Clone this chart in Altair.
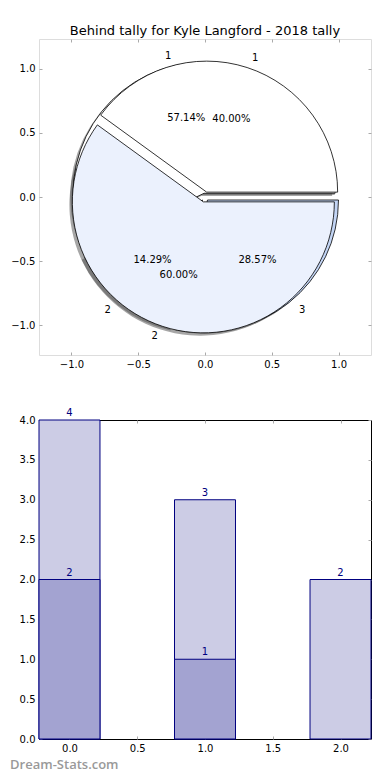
import math
import altair as alt
import pandas as pd

TITLE = "Behind tally for Kyle Langford - 2018 tally"
WATERMARK = "Dream-Stats.com"

# outer pie (drawn on top): 2 slices
pie_a_values = [2, 3]
pie_a_labels = ["1", "2"]
pie_a_colors = ["#ffffff", "#ebf1fd"]
pie_a_explode = [0.04, 0.04]

# under pie: 3 slices
pie_b_values = [4, 1, 2]
pie_b_labels = ["1", "2", "3"]
pie_b_colors = ["#ffffff", "#ffffff", "#c3d5f5"]
pie_b_explode = [0.03, 0.03, 0.03]

bar_positions = [0, 1, 2]
bar_totals = [4, 3, 2]
sub_positions = [0, 1]
sub_values = [2, 1]

pie_ticks = [-1.0, -0.5, 0.0, 0.5, 1.0]
bar_xticks = [0.0, 0.5, 1.0, 1.5, 2.0]
bar_yticks = [0.0, 0.5, 1.0, 1.5, 2.0, 2.5, 3.0, 3.5, 4.0]


def pie_frame(values, labels, colors, explode, name):
    total = sum(values)
    rows = []
    cum = 0
    for v, lab, col, ex in zip(values, labels, colors, explode):
        f0 = cum / total
        cum += v
        f1 = cum / total
        mid = math.pi * (f0 + f1)
        cx = ex * math.cos(mid)
        cy = ex * math.sin(mid)
        rows.append(dict(
            pie=name, f0=f0, f1=f1, cx=cx, cy=cy,
            sx=cx - 0.022, sy=cy - 0.022,
            lx=cx + 1.1 * math.cos(mid), ly=cy + 1.1 * math.sin(mid),
            px=cx + 0.6 * math.cos(mid), py=cy + 0.6 * math.sin(mid),
            label=lab, pct=f"{100 * v / total:.2f}%", color=col,
            side="right" if math.cos(mid) < 0 else "left",
        ))
    return pd.DataFrame(rows)


pie_df = pd.concat([
    pie_frame(pie_b_values, pie_b_labels, pie_b_colors, pie_b_explode, "B"),
    pie_frame(pie_a_values, pie_a_labels, pie_a_colors, pie_a_explode, "A"),
], ignore_index=True)

FONT = "DejaVu Sans"
TICK_GRAY = "#aaaaaa"
R = 131
W = 332

X_PIE = alt.Scale(domain=[-1.243, 1.243], nice=False, zero=False)
Y_PIE = alt.Scale(domain=[-1.234, 1.234], nice=False, zero=False)
TH = alt.Scale(domain=[0, 1], range=[math.pi / 2, math.pi / 2 - 2 * math.pi])


def axis(orient, values, labels=True):
    kw = dict(orient=orient, values=values, format=".1f", domain=False, grid=False,
              ticks=True, tickColor=TICK_GRAY, tickSize=3, tickWidth=1, offset=-3,
              labels=labels, title=None)
    if labels:
        kw.update(labelPadding=4, labelFontSize=10, labelFont=FONT, labelColor="black",
                  labelFlush=False, labelOverlap=False)
    return alt.Axis(**kw)


base_pie = alt.Chart(pie_df)

shadows = base_pie.mark_arc(radius=R, fill="#4d4d4d", opacity=0.5).encode(
    x=alt.X("sx:Q", scale=X_PIE, axis=axis("bottom", pie_ticks)),
    y=alt.Y("sy:Q", scale=Y_PIE, axis=axis("left", pie_ticks)),
    theta=alt.Theta("f0:Q", scale=TH, stack=None),
    theta2="f1:Q",
)

wedges = base_pie.mark_arc(radius=R, stroke="black", strokeWidth=0.8).encode(
    x=alt.X("cx:Q", scale=X_PIE, axis=None),
    y=alt.Y("cy:Q", scale=Y_PIE, axis=None),
    theta=alt.Theta("f0:Q", scale=TH, stack=None),
    theta2="f1:Q",
    fill=alt.Fill("color:N", scale=None),
)

labels_right = base_pie.transform_filter(alt.datum.side == "right").mark_text(
    align="right", baseline="middle", font=FONT, fontSize=10, color="black"
).encode(
    x=alt.X("lx:Q", scale=X_PIE, axis=None),
    y=alt.Y("ly:Q", scale=Y_PIE, axis=None),
    text="label:N",
)
labels_left = base_pie.transform_filter(alt.datum.side == "left").mark_text(
    align="left", baseline="middle", font=FONT, fontSize=10, color="black"
).encode(
    x=alt.X("lx:Q", scale=X_PIE, axis=None),
    y=alt.Y("ly:Q", scale=Y_PIE, axis=None),
    text="label:N",
)
pcts = base_pie.mark_text(
    align="center", baseline="middle", font=FONT, fontSize=10, color="black"
).encode(
    x=alt.X("px:Q", scale=X_PIE, axis=axis("top", pie_ticks, labels=False)),
    y=alt.Y("py:Q", scale=Y_PIE, axis=axis("right", pie_ticks, labels=False)),
    text="pct:N",
)

pie = alt.layer(shadows, wedges, labels_right, labels_left, pcts).resolve_axis(
    x="independent", y="independent"
).properties(
    width=W, height=316,
    title=alt.TitleParams(TITLE, fontSize=13, font=FONT, fontWeight="normal",
                          color="black", offset=1, anchor="middle"),
)

# ---------------- bar chart ----------------
bars_df = pd.DataFrame({"x": bar_positions, "v": bar_totals})
subs_df = pd.DataFrame({"x": sub_positions, "v": sub_values})

X_BAR = alt.Scale(domain=[-0.225, 2.225], nice=False, zero=False)
Y_BAR = alt.Scale(domain=[0, 4], nice=False, zero=False)
NAVY = "#000080"


def bar_layer(df, fill, xa, ya):
    return alt.Chart(df).transform_calculate(
        x0="datum.x - 0.225", x1="datum.x + 0.225", z="0"
    ).mark_bar(fill=fill, stroke=NAVY, strokeWidth=1).encode(
        x=alt.X("x0:Q", scale=X_BAR, axis=xa),
        x2="x1:Q",
        y=alt.Y("v:Q", scale=Y_BAR, axis=ya),
        y2="z:Q",
    )


def label_layer(df, xa, ya):
    return alt.Chart(df).mark_text(
        align="center", baseline="alphabetic", dy=-4, font=FONT, fontSize=10, color=NAVY
    ).encode(
        x=alt.X("x:Q", scale=X_BAR, axis=xa),
        y=alt.Y("v:Q", scale=Y_BAR, axis=ya),
        text=alt.Text("v:Q", format="d"),
    )


bar = alt.layer(
    bar_layer(bars_df, "#ccccE5", axis("bottom", bar_xticks), axis("left", bar_yticks)),
    bar_layer(subs_df, "#a3a3d1", None, None),
    label_layer(bars_df, axis("top", bar_xticks, labels=False), axis("right", bar_yticks, labels=False)),
    label_layer(subs_df, None, None),
).resolve_axis(x="independent", y="independent").properties(
    width=W, height=319,
    view=alt.ViewBackground(stroke="black", strokeWidth=1),
    title=alt.TitleParams(WATERMARK, orient="bottom", anchor="start", dx=-9, offset=6,
                          fontSize=13, font="Open Sans", fontWeight=600, color="#999999"),
)

chart = alt.vconcat(pie, bar, spacing=65, bounds="flush").properties(
    padding={"left": 1, "top": 16, "right": 2, "bottom": 0}
).configure_view(stroke=None).configure(font=FONT)

chart.save("out.html", embed_options={"renderer": "svg", "actions": False})
